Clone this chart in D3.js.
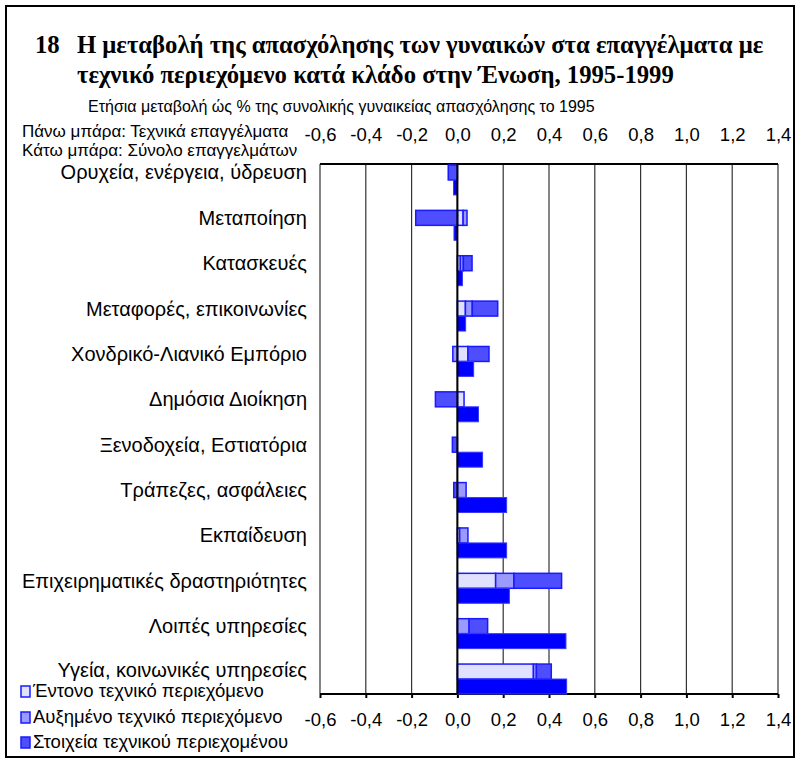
<!DOCTYPE html>
<html>
<head>
  <meta charset="utf-8">
  <title>Μεταβολή απασχόλησης γυναικών</title>
  <script src="https://cdn.jsdelivr.net/npm/d3@7"></script>
  <style>
    body { margin: 0; background: #fff; }
    svg text { font-family: "Liberation Sans", Arial, sans-serif; fill: #000; }
    .title { font-family: "Liberation Serif", "Times New Roman", serif; font-weight: bold; font-size: 24.7px; }
  </style>
</head>
<body>
  <svg id="chart" width="799" height="764"></svg>

  <script>
    // categories, top to bottom
    var categories = [
      'Ορυχεία, ενέργεια, ύδρευση',
      'Μεταποίηση',
      'Κατασκευές',
      'Μεταφορές, επικοινωνίες',
      'Χονδρικό-Λιανικό Εμπόριο',
      'Δημόσια Διοίκηση',
      'Ξενοδοχεία, Εστιατόρια',
      'Τράπεζες, ασφάλειες',
      'Εκπαίδευση',
      'Επιχειρηματικές δραστηριότητες',
      'Λοιπές υπηρεσίες',
      'Υγεία, κοινωνικές υπηρεσίες'
    ];

    // top bar: technical occupations, stacked
    var entono   = [0, 0.025, 0.013, 0.035, 0.046, 0.029, 0, 0, 0.010, 0.167, 0, 0.332];
    var afximeno = [0, 0.017, 0.013, 0.030, -0.020, 0, 0, 0.038, 0.036, 0.080, 0.051, 0.013];
    var stoixeia = [-0.040, -0.182, 0.038, 0.111, 0.092, -0.096, -0.022, -0.016, 0, 0.208, 0.081, 0.065];
    // bottom bar: all occupations
    var synolo   = [-0.017, -0.015, 0.022, 0.036, 0.071, 0.092, 0.110, 0.215, 0.215, 0.227, 0.474, 0.477];

    var seriesNames = ['Έντονο τεχνικό περιεχόμενο', 'Αυξημένο τεχνικό περιεχόμενο', 'Στοιχεία τεχνικού περιεχομένου'];
    var xTicks = [-0.6, -0.4, -0.2, 0, 0.2, 0.4, 0.6, 0.8, 1.0, 1.2, 1.4];

    var fills = ['#e0e0ff', '#9a9aff', '#4e4eff'];

    var svg = d3.select('#chart');
    var plot = { left: 320, right: 778, top: 164, bottom: 694 };

    var locale = d3.formatLocale({ decimal: ',', thousands: '.', grouping: [3], currency: ['', '€'], minus: '-' });
    var fmt = locale.format('.1f');

    var x = d3.scaleLinear().domain([-0.6, 1.4]).range([plot.left, plot.right]);
    var y = d3.scaleBand().domain(categories).range([plot.top + 1, plot.bottom]).paddingInner(0.34).paddingOuter(0);
    var bh = y.bandwidth() / 2;

    // outer frame
    svg.append('rect')
      .attr('x', 6).attr('y', 6).attr('width', 788).attr('height', 751)
      .attr('fill', 'none').attr('stroke', '#000').attr('stroke-width', 2);

    // titles
    svg.append('text').attr('class', 'title').attr('x', 35).attr('y', 53).text('18');
    svg.append('text').attr('class', 'title').attr('x', 77).attr('y', 53)
      .text('Η μεταβολή της απασχόλησης των γυναικών στα επαγγέλματα με');
    svg.append('text').attr('class', 'title').attr('x', 77).attr('y', 83)
      .text('τεχνικό περιεχόμενο κατά κλάδο στην Ένωση, 1995-1999');
    svg.append('text').attr('x', 88).attr('y', 112).style('font-size', '16px')
      .text('Ετήσια μεταβολή ώς % της συνολικής γυναικείας απασχόλησης το 1995');
    svg.append('text').attr('x', 22).attr('y', 137).style('font-size', '17px')
      .text('Πάνω μπάρα: Τεχνικά επαγγέλματα');
    svg.append('text').attr('x', 22).attr('y', 156).style('font-size', '17px')
      .text('Κάτω μπάρα: Σύνολο επαγγελμάτων');

    // gridlines
    svg.append('g').selectAll('line')
      .data(xTicks)
      .join('line')
      .attr('x1', d => x(d)).attr('x2', d => x(d))
      .attr('y1', plot.top).attr('y2', plot.bottom)
      .attr('stroke', '#333').attr('stroke-width', 1.2);

    // axes
    var axTop = svg.append('g')
      .attr('transform', 'translate(0,' + plot.top + ')')
      .call(d3.axisTop(x).tickValues(xTicks).tickFormat(fmt).tickSize(0).tickPadding(23));
    var axBottom = svg.append('g')
      .attr('transform', 'translate(0,' + plot.bottom + ')')
      .call(d3.axisBottom(x).tickValues(xTicks).tickFormat(fmt).tickSize(4).tickPadding(15));
    [axTop, axBottom].forEach(a => {
      a.select('.domain').attr('stroke', '#000').attr('stroke-width', 2).attr('d', 'M' + plot.left + ',0H' + plot.right);
      a.selectAll('text').style('font-size', '18.5px').style('font-family', '"Liberation Sans", Arial, sans-serif');
      a.selectAll('line').attr('stroke', '#000').attr('stroke-width', 2);
    });

    // stacked top bars
    var rows = categories.map((c, i) => ({ cat: c, a: entono[i], b: afximeno[i], c: stoixeia[i] }));
    var stacked = d3.stack().keys(['a', 'b', 'c']).offset(d3.stackOffsetDiverging)(rows);

    svg.append('g').selectAll('g')
      .data(stacked)
      .join('g')
      .attr('fill', (d, i) => fills[i])
      .selectAll('rect')
      .data(d => d.filter(s => s[1] !== s[0]))
      .join('rect')
      .attr('x', d => x(Math.min(d[0], d[1])))
      .attr('width', d => Math.abs(x(d[1]) - x(d[0])))
      .attr('y', d => y(d.data.cat))
      .attr('height', bh)
      .attr('stroke', '#1a1aff')
      .attr('stroke-width', 1.5);

    // bottom bars
    svg.append('g').selectAll('rect')
      .data(synolo)
      .join('rect')
      .attr('x', d => x(Math.min(0, d)))
      .attr('width', d => Math.abs(x(d) - x(0)))
      .attr('y', (d, i) => y(categories[i]) + bh)
      .attr('height', bh)
      .attr('fill', '#0000ff')
      .attr('stroke', '#3838ff')
      .attr('stroke-width', 1);

    // zero line on top
    svg.append('line')
      .attr('x1', x(0)).attr('x2', x(0))
      .attr('y1', plot.top).attr('y2', plot.bottom)
      .attr('stroke', '#000').attr('stroke-width', 2);

    // category labels (last one nudged up a little to clear the legend)
    svg.append('g').selectAll('text')
      .data(categories)
      .join('text')
      .attr('x', 307)
      .attr('y', (d, i) => y(d) + bh / 2 - (i === categories.length - 1 ? 2 : 0))
      .attr('dy', '0.35em')
      .attr('text-anchor', 'end')
      .style('font-size', '20px')
      .text(d => d);

    // legend
    var legend = svg.append('g').selectAll('g')
      .data(seriesNames)
      .join('g')
      .attr('transform', (d, i) => 'translate(21,' + [691, 717, 742][i] + ')');
    legend.append('rect')
      .attr('x', 0).attr('y', -5).attr('width', 9).attr('height', 11)
      .attr('fill', (d, i) => fills[i])
      .attr('stroke', '#1a1aff').attr('stroke-width', 1.5);
    legend.append('text')
      .attr('x', 12).attr('dy', '0.35em')
      .style('font-size', '18.5px')
      .text(d => d);
  </script>
</body>
</html>
